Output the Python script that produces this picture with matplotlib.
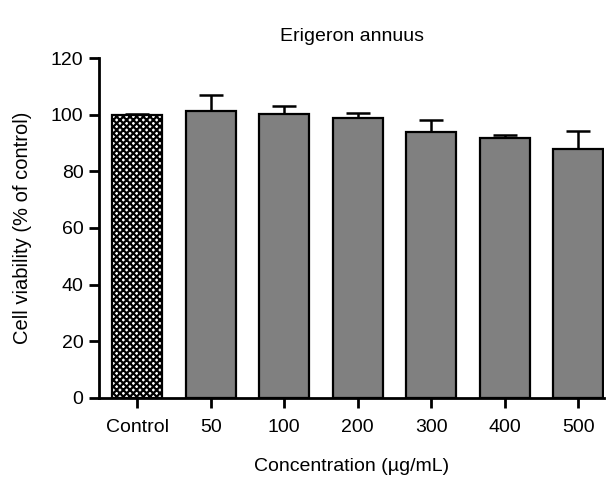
import numpy as np
import matplotlib
matplotlib.use("Agg")
import matplotlib.pyplot as plt

plt.rcParams['font.family'] = ['Liberation Sans', 'DejaVu Sans']
plt.rcParams['hatch.linewidth'] = 1.6

# data
groups = ['Control', '50', '100', '200', '300', '400', '500']
viability = [100.0, 101.4, 100.2, 98.8, 93.8, 91.8, 87.8]
sem = [0.3, 5.4, 2.8, 1.7, 4.3, 1.0, 6.5]

fig = plt.figure(figsize=(6.14, 4.84), dpi=100)
ax = fig.add_axes([0.161, 0.178, 0.823, 0.702])

x = np.arange(len(groups))
colors = ['white'] + ['#808080'] * (len(groups) - 1)
bars = ax.bar(x, viability, width=0.68, color=colors, edgecolor='black',
              linewidth=1.6, zorder=2)
bars[0].set_hatch('xxxxx')

# upward error bars only
ax.errorbar(x, viability, yerr=[np.zeros(len(sem)), sem], fmt='none',
            ecolor='black', elinewidth=1.8, capsize=8.5, capthick=1.8, zorder=1)

ax.set_xlim(-0.52, 6.35)
ax.set_ylim(0, 120)
ax.set_yticks(np.arange(0, 121, 20))
ax.set_xticks(x)
ax.set_xticklabels(groups)

for side in ['top', 'right']:
    ax.spines[side].set_visible(False)
for side in ['left', 'bottom']:
    ax.spines[side].set_linewidth(2)

ax.tick_params(axis='both', direction='out', width=2, labelsize=14)
ax.tick_params(axis='y', length=7, pad=4)
ax.tick_params(axis='x', length=7, pad=8)

ax.set_title('Erigeron annuus', fontsize=14, pad=12)
ax.set_ylabel('Cell viability (% of control)', fontsize=14.5, labelpad=14)
ax.set_xlabel('Concentration (\u00b5g/mL)', fontsize=14, labelpad=16)

fig.savefig('out.png', dpi=100)
